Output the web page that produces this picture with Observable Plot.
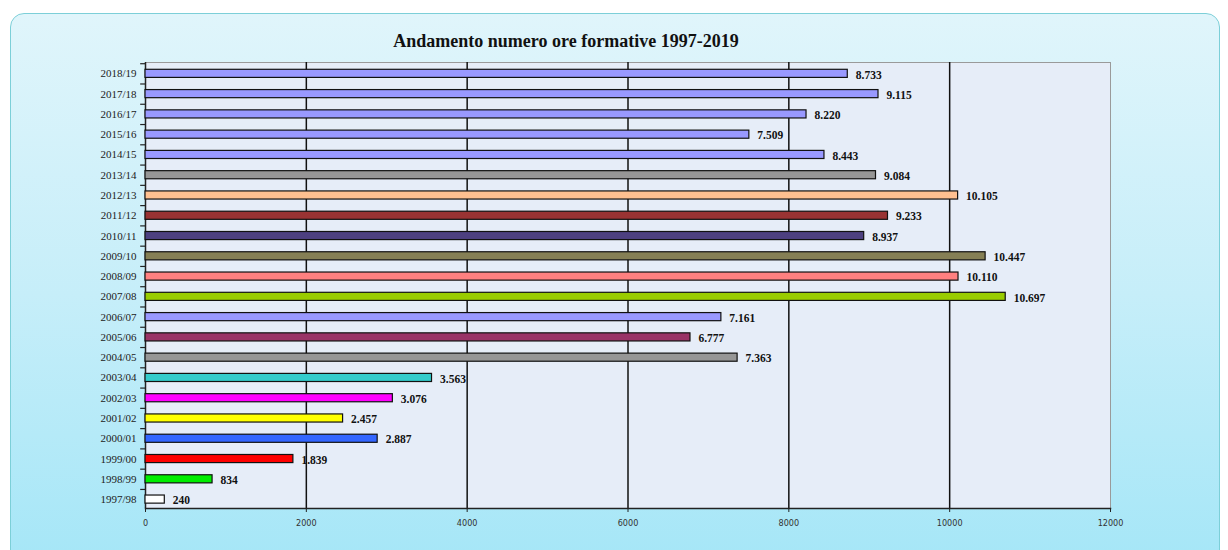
<!DOCTYPE html>
<html>
<head>
<meta charset="utf-8">
<script src="https://cdn.jsdelivr.net/npm/d3@7"></script>
<script src="https://cdn.jsdelivr.net/npm/@observablehq/plot@0.6"></script>
<style>
  html, body { margin: 0; padding: 0; background: #ffffff; }
  #page { position: relative; width: 1228px; height: 550px; overflow: hidden; background: #ffffff; }
  #panel { position: absolute; left: 10px; top: 13px; width: 1208px; height: 560px;
    border: 1px solid #7ccfd8; border-radius: 14px;
    background: linear-gradient(to bottom, #e0f5fb 0%, #c6eef9 50%, #a4e6f7 100%); }
  #title { position: absolute; left: 0; width: 1132px; top: 31px; text-align: center;
    font-family: "Liberation Serif", "DejaVu Serif", serif; font-weight: bold; font-size: 18px; color: #111; }
  #chart { position: absolute; left: 0; top: 0; }
</style>
</head>
<body>
<div id="page">
  <div id="panel"></div>
  <div id="title">Andamento numero ore formative 1997-2019</div>
  <div id="chart"></div>
</div>
<script>
// Data (top to bottom as shown)
const categories = ["2018/19","2017/18","2016/17","2015/16","2014/15","2013/14","2012/13","2011/12","2010/11","2009/10","2008/09","2007/08","2006/07","2005/06","2004/05","2003/04","2002/03","2001/02","2000/01","1999/00","1998/99","1997/98"];
const values = [8733, 9115, 8220, 7509, 8443, 9084, 10105, 9233, 8937, 10447, 10110, 10697, 7161, 6777, 7363, 3563, 3076, 2457, 2887, 1839, 834, 240];
const xTicks = [0, 2000, 4000, 6000, 8000, 10000, 12000];
const gridValues = [2000, 4000, 6000, 8000, 10000];

// Styles
const barColors = ["#9999ff","#9999ff","#9999ff","#9999ff","#9999ff","#969696","#ffc090","#993333","#4d4080","#857f55","#ff8080","#99cc00","#9999ff","#993366","#969696","#33cccc","#ff00ff","#ffff00","#3366ff","#ff0000","#00ee00","#ffffff"];

const rows = categories.map((c, i) => ({cat: c, value: values[i]}));
const fmt = v => d3.format(",")(v).replace(/,/g, ".");

const W = 1228, H = 550;
const mTop = 62, mBottom = 42, mLeft = 145, mRight = 118;
const step = (H - mTop - mBottom) / categories.length;

const chart = Plot.plot({
  width: W,
  height: H,
  marginTop: mTop,
  marginBottom: mBottom,
  marginLeft: mLeft,
  marginRight: mRight,
  style: { background: "transparent", fontFamily: "Liberation Serif, serif", overflow: "visible" },
  x: { domain: [0, 12000], ticks: xTicks, tickFormat: d => String(d), label: null },
  y: { domain: categories, paddingInner: 0.6, paddingOuter: 0.3, align: 0.6, round: false, label: null },
  color: { domain: categories, range: barColors },
  marks: [
    Plot.frame({ fill: "#e6edf8", stroke: "#9a9a9a" }),
    Plot.ruleX(gridValues, { stroke: "#111", strokeWidth: 1.5 }),
    Plot.ruleX([0], { stroke: "#222", strokeWidth: 1.5 }),
    Plot.frame({ anchor: "bottom", stroke: "#222", strokeWidth: 1.5 }),
    Plot.barX(rows, { y: "cat", x: "value", fill: "cat", stroke: "#111", strokeWidth: 1.2 }),
    Plot.text(rows, { y: "cat", x: "value", text: d => fmt(d.value), textAnchor: "start", dx: 8, dy: 1,
      fontWeight: "bold", fontSize: 11.5, fill: "#111" }),
    Plot.axisY({ tickSize: 0, tickPadding: 9, fontSize: 11, fill: "#222", label: null }),
    Plot.ruleY(categories, { y: d => d, x1: -60, x2: 0, dy: -step / 2, stroke: "#222", strokeWidth: 1.2 }),
    Plot.axisX({ ticks: xTicks, tickFormat: d => String(d), tickSize: 4, tickPadding: 7, fontSize: 9, label: null,
      fontFamily: "DejaVu Sans Condensed, Liberation Sans Narrow, sans-serif", fill: "#333", stroke: "#222" })
  ]
});
document.getElementById("chart").appendChild(chart);
</script>
</body>
</html>
